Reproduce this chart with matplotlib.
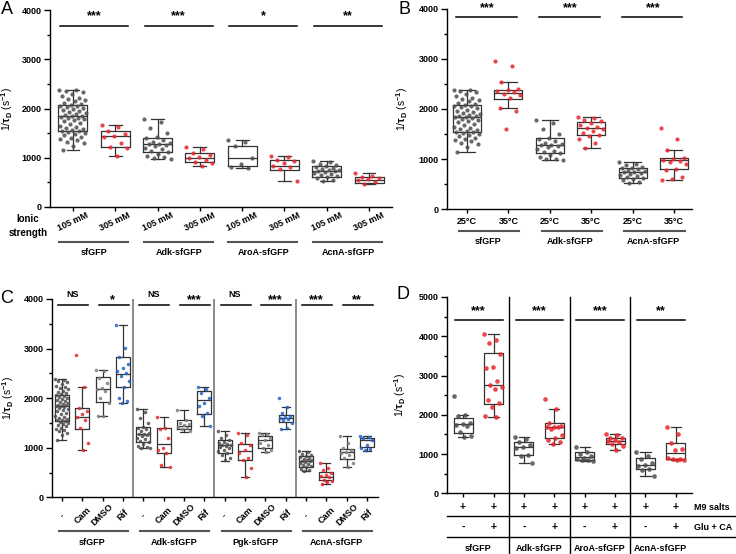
import numpy as np
import matplotlib
matplotlib.use("Agg")
import matplotlib.pyplot as plt

plt.rcParams['font.family'] = ['Liberation Sans', 'DejaVu Sans']
plt.rcParams['font.weight'] = 'bold'
plt.rcParams['mathtext.fontset'] = 'custom'
plt.rcParams['mathtext.rm'] = 'Liberation Sans:bold'
plt.rcParams['mathtext.it'] = 'Liberation Sans:bold'
plt.rcParams['mathtext.bf'] = 'Liberation Sans:bold'

W, H = 736, 554
GRAY = '#4d4d4d'
LGRAY = '#7d7d7d'
RED = '#e8262b'
BLUE = '#1f64c8'
YLABEL = r'1/$\tau_\mathrm{D}$ (s$^{-1}$)'

# ---- control groups shared by several panels ----
sfgfp_ctrl = [2385, 2370, 2350, 2330, 2290, 2250, 2220, 2200, 2180, 2150, 2120, 2100,
              2080, 2060, 2050, 2030, 2010, 1990, 1970, 1950, 1930, 1910, 1890, 1870,
              1860, 1850, 1840, 1820, 1800, 1780, 1760, 1740, 1710, 1680, 1650, 1620,
              1600, 1580, 1560, 1550, 1540, 1520, 1500, 1480, 1460, 1430, 1400, 1380,
              1360, 1330, 1300, 1250, 1150]
adk_ctrl = [1780, 1730, 1600, 1500, 1420, 1400, 1370, 1330, 1300, 1285, 1275, 1260,
            1240, 1200, 1170, 1140, 1120, 1080, 1040, 1010, 995, 985]
acna_ctrl = [935, 910, 880, 850, 830, 820, 800, 780, 760, 750, 740, 730, 710, 690,
             670, 650, 630, 610, 580, 550, 525]

# ---- Panel A: ionic strength ----
a_groups = ['sfGFP', 'Adk-sfGFP', 'AroA-sfGFP', 'AcnA-sfGFP']
a_ticks = ['105 mM', '305 mM'] * 4
a_sig = ['***', '***', '*', '**']
a_points = [sfgfp_ctrl,
            [1661, 1625, 1550, 1480, 1440, 1425, 1310, 1215, 1200, 1031],
            adk_ctrl,
            [1214, 1180, 1100, 1060, 1025, 1000, 960, 925, 900, 830],
            [1369, 1330, 1240, 990, 880, 820, 790],
            [1031, 1010, 950, 935, 895, 840, 820, 780, 529],
            acna_ctrl,
            [690, 640, 610, 580, 560, 540, 500, 470]]
a_lo = [1150, 1030, 985, 830, 786, 529, 522, 465]
a_q1 = [1540, 1214, 1125, 909, 840, 762, 620, 494]
a_med = [1850, 1437, 1280, 1005, 990, 830, 740, 550]
a_q3 = [2070, 1545, 1412, 1091, 1237, 949, 825, 600]
a_hi = [2385, 1661, 1780, 1214, 1369, 1031, 935, 690]

# ---- Panel B: temperature ----
b_groups = ['sfGFP', 'Adk-sfGFP', 'AcnA-sfGFP']
b_ticks = ['25°C', '35°C'] * 3
b_sig = ['***', '***', '***']
b_points = [sfgfp_ctrl,
            [2963, 2864, 2538, 2400, 2380, 2350, 2330, 2300, 2280, 2210, 2013, 1960, 1595],
            adk_ctrl,
            [1847, 1820, 1790, 1760, 1720, 1680, 1650, 1630, 1610, 1560, 1520, 1490,
             1470, 1400, 1330, 1216],
            acna_ctrl,
            [1621, 1402, 1176, 1020, 1000, 980, 960, 940, 900, 800, 780, 650, 600, 578]]
b_lo = [1150, 2013, 985, 1216, 522, 578]
b_q1 = [1540, 2206, 1125, 1476, 620, 798]
b_med = [1850, 2326, 1280, 1627, 740, 977]
b_q3 = [2070, 2379, 1412, 1747, 825, 1017]
b_hi = [2385, 2538, 1780, 1847, 935, 1176]

# ---- Panel C: antibiotics ----
c_groups = ['sfGFP', 'Adk-sfGFP', 'Pgk-sfGFP', 'AcnA-sfGFP']
c_ticks = ['-', 'Cam', 'DMSO', 'Rif'] * 4
c_sig = ['NS', '*', 'NS', '***', 'NS', '***', '***', '**']
c_points = [sfgfp_ctrl,
            [2876, 2231, 1800, 1750, 1680, 1620, 1550, 1400, 1100, 948],
            [2574, 2550, 2400, 2300, 2200, 2180, 2150, 2000, 1900, 1650, 1633],
            [3481, 3020, 2820, 2680, 2600, 2550, 2500, 2450, 2350, 2220, 2000, 1950, 1910],
            adk_ctrl,
            [1613, 1400, 1380, 1200, 1000, 950, 900, 650, 620],
            [1762, 1560, 1500, 1480, 1450, 1420, 1400, 1380, 1330],
            [2219, 2180, 2100, 2000, 1900, 1850, 1700, 1650, 1438],
            [1337, 1250, 1200, 1150, 1120, 1090, 1070, 1055, 1045, 1030, 1010, 990,
             960, 930, 900, 860, 800, 750],
            [1297, 1250, 1100, 1050, 950, 900, 800, 750, 600, 409],
            [1297, 1270, 1250, 1200, 1150, 1100, 1050, 1000, 950, 920],
            [2010, 1815, 1700, 1650, 1620, 1600, 1580, 1550, 1500, 1400, 1384],
            acna_ctrl,
            [699, 600, 550, 500, 450, 420, 400, 350, 320, 300, 275],
            [1230, 1100, 1000, 950, 920, 900, 850, 800, 700, 612],
            [1230, 1210, 1190, 1150, 1050, 1000, 970, 950]]
c_lo = [1150, 948, 1633, 1908, 985, 618, 1317, 1438, 739, 409, 914, 1384, 522, 275, 612, 934]
c_q1 = [1540, 1384, 1916, 2219, 1125, 900, 1384, 1687, 900, 752, 1002, 1512, 620, 350, 766, 1008]
c_med = [1850, 1613, 2184, 2487, 1280, 1075, 1438, 1956, 1048, 940, 1146, 1600, 740, 416, 914, 1150]
c_q3 = [2070, 1801, 2420, 2824, 1412, 1405, 1560, 2138, 1149, 1082, 1244, 1667, 825, 504, 981, 1203]
c_hi = [2385, 2231, 2574, 3481, 1780, 1613, 1762, 2219, 1337, 1297, 1297, 1815, 935, 699, 1230, 1230]

# ---- Panel D: growth medium ----
d_groups = ['sfGFP', 'Adk-sfGFP', 'AroA-sfGFP', 'AcnA-sfGFP']
d_m9 = ['+'] * 8
d_glu = ['-', '+'] * 4
d_sig = ['***', '***', '***', '**']
d_points = [[2480, 1995, 1960, 1780, 1760, 1750, 1720, 1560, 1450, 1443],
            [4058, 3900, 3820, 3560, 3220, 3200, 2870, 2760, 2700, 2650, 2380, 2300,
             2200, 1960, 1935],
            [1426, 1380, 1300, 1220, 1180, 1150, 980, 960, 772],
            [2394, 2156, 1780, 1720, 1700, 1690, 1680, 1640, 1480, 1420, 1350, 1300, 1256],
            [1171, 1050, 1000, 950, 900, 870, 850, 840, 815],
            [1520, 1480, 1420, 1400, 1360, 1330, 1300, 1250, 1200, 1104],
            [1053, 960, 880, 760, 720, 700, 620, 600, 441],
            [1698, 1500, 1290, 1130, 1100, 900, 880, 870, 860, 850]]
d_lo = [1443, 1935, 772, 1256, 815, 1104, 441, 840]
d_q1 = [1545, 2284, 968, 1418, 840, 1248, 611, 866]
d_med = [1766, 2750, 1180, 1689, 934, 1333, 730, 1027]
d_q3 = [1910, 3565, 1299, 1783, 1044, 1418, 891, 1290]
d_hi = [1995, 4058, 1426, 2156, 1171, 1520, 1053, 1698]

fig = plt.figure(figsize=(W / 100, H / 100), dpi=100)


def px_axes(left, top, right, bottom):
    return fig.add_axes([left / W, 1 - bottom / H, (right - left) / W, (bottom - top) / H])


def setup(ax, ymax, xlim, label_x):
    for s in ['top', 'right']:
        ax.spines[s].set_visible(False)
    for s in ['left', 'bottom']:
        ax.spines[s].set_linewidth(1.0)
    ax.set_ylim(0, ymax)
    ax.set_xlim(*xlim)
    ax.set_yticks(np.arange(0, ymax + 1, 1000))
    ax.set_yticks(np.arange(500, ymax, 1000), minor=True)
    ax.tick_params(axis='y', which='major', length=4, width=1, labelsize=6.5, pad=2)
    ax.tick_params(axis='y', which='minor', length=2.5, width=1)
    ax.tick_params(axis='x', length=3, width=1, labelbottom=False)
    ax.set_ylabel(YLABEL, fontsize=7.5)
    ax.yaxis.set_label_coords(label_x, 0.5)


def boxes(ax, lo, q1, med, q3, hi, points, colors, width, capw, msize):
    pos = np.arange(1, len(lo) + 1)
    stats = [dict(whislo=lo[i], q1=q1[i], med=med[i], q3=q3[i], whishi=hi[i], fliers=[])
             for i in range(len(lo))]
    lp = dict(color='#333333', lw=0.9)
    ax.bxp(stats, positions=pos, widths=width, capwidths=capw, showfliers=False,
           manage_ticks=False, boxprops=lp, medianprops=lp, whiskerprops=lp, capprops=lp)
    for i, vals in enumerate(points):
        k = np.arange(len(vals))
        jit = ((k * 0.618034) % 1 - 0.5) * 0.95 * width
        ax.scatter(pos[i] + jit, vals, s=msize, color=colors[i], alpha=0.85, lw=0, zorder=3)
    ax.set_xticks(pos)
    return pos


def sig(ax, labels, yline, ytext, left, right, n=2):
    for g, t in enumerate(labels):
        a = g * n + 1
        b = a + 1
        ax.plot([a - left, b + right], [yline, yline], color='k', lw=1.1)
        if t == 'NS':
            ax.text((a + b) / 2, ytext, t, ha='center', va='center', fontsize=6.5)
        else:
            ax.text((a + b) / 2, ytext, t, ha='center', va='top', fontsize=9)


def group_lines(ax, names, size, yline, yname, left, right, color='#555555'):
    tr = ax.get_xaxis_transform()
    for g, name in enumerate(names):
        a = g * size + 1
        b = a + size - 1
        ax.plot([a - left, b + right], [yline, yline], color=color, lw=1.5,
                transform=tr, clip_on=False)
        ax.text((a + b) / 2, yname, name, ha='center', va='center', fontsize=6.5,
                transform=tr)


# ---- A ----
axA = px_axes(50, 10.3, 392, 207)
setup(axA, 4000, (0.46, 8.54), -35 / 342)
posA = boxes(axA, a_lo, a_q1, a_med, a_q3, a_hi, a_points, [GRAY, RED] * 4, 0.68, 0.3, 9)
sig(axA, a_sig, 3680, 4000, 0.3, 0.3)
trA = axA.get_xaxis_transform()
for p, t in zip(posA, a_ticks):
    axA.text(p, -0.075, t, rotation=25, ha='center', va='center', fontsize=6.5, transform=trA)
group_lines(axA, a_groups, 2, -0.178, -0.229, 0.33, 0.3)
fig.text(28 / W, 1 - 226 / H, 'Ionic\nstrength', ha='center', va='center',
         fontsize=7, linespacing=1.4)

# ---- B ----
axB = px_axes(447, 8.7, 692, 209.3)
setup(axB, 4000, (0.52, 6.43), -37 / 245)
posB = boxes(axB, b_lo, b_q1, b_med, b_q3, b_hi, b_points, [GRAY, RED] * 3, 0.68, 0.4, 9)
sig(axB, b_sig, 3830, 4130, 0.27, 0.2)
trB = axB.get_xaxis_transform()
for p, t in zip(posB, b_ticks):
    axB.text(p, -0.06, t, ha='center', va='center', fontsize=6.5, transform=trB)
group_lines(axB, b_groups, 2, -0.108, -0.163, 0.2, 0.26)

# ---- C ----
axC = px_axes(52, 299, 378, 497.3)
setup(axC, 4000, (0.51, 16.54), -36 / 326)
posC = boxes(axC, c_lo, c_q1, c_med, c_q3, c_hi, c_points,
             [GRAY, RED, LGRAY, BLUE] * 4, 0.7, 0.4, 6.5)
for s in [4.5, 8.5, 12.5]:
    axC.axvline(s, color='#777777', lw=1.2)
sig(axC, c_sig, 3880, 4090, 0.2, 0.28)
trC = axC.get_xaxis_transform()
for p, t in zip(posC, c_ticks):
    axC.text(p, -0.09, t, rotation=45, ha='center', va='center', fontsize=6.5, transform=trC)
group_lines(axC, c_groups, 4, -0.171, -0.227, 0.15, 0.25)

# ---- D ----
axD = px_axes(447, 297, 692, 493.3)
setup(axD, 5000, (0.47, 8.53), -39 / 245)
posD = boxes(axD, d_lo, d_q1, d_med, d_q3, d_hi, d_points, [GRAY, RED] * 4, 0.63, 0.33, 11)
sig(axD, d_sig, 4420, 4780, 0.27, 0.3)
trD = axD.get_xaxis_transform()
bottom_frac = -(H - 493.3) / 196.3
for s in [2.5, 4.5, 6.5]:
    axD.plot([s, s], [1, bottom_frac], color='k', lw=1, transform=trD, clip_on=False)
for yl in [-0.116, -0.223]:
    axD.plot([0, (W - 447) / 245], [yl, yl], color='k', lw=1,
             transform=axD.transAxes, clip_on=False)
for p, m, g in zip(posD, d_m9, d_glu):
    axD.text(p, -0.07, m, ha='center', va='center', fontsize=7.5, transform=trD)
    axD.text(p, -0.172, g, ha='center', va='center', fontsize=7.5, transform=trD)
axD.text(1.01, -0.07, 'M9 salts', ha='left', va='center', fontsize=6.5, transform=axD.transAxes)
axD.text(1.01, -0.172, 'Glu + CA', ha='left', va='center', fontsize=6.5, transform=axD.transAxes)
for g, name in enumerate(d_groups):
    axD.text(2 * g + 1.5, -0.279, name, ha='center', va='center', fontsize=6.5, transform=trD)

# ---- panel letters ----
for x, y, t in [(1, 1, 'A'), (398, 1, 'B'), (0, 290, 'C'), (397, 286, 'D')]:
    fig.text(x / W, 1 - y / H, t, ha='left', va='top', fontsize=13, fontweight='normal')

plt.savefig("out.png", dpi=100)
